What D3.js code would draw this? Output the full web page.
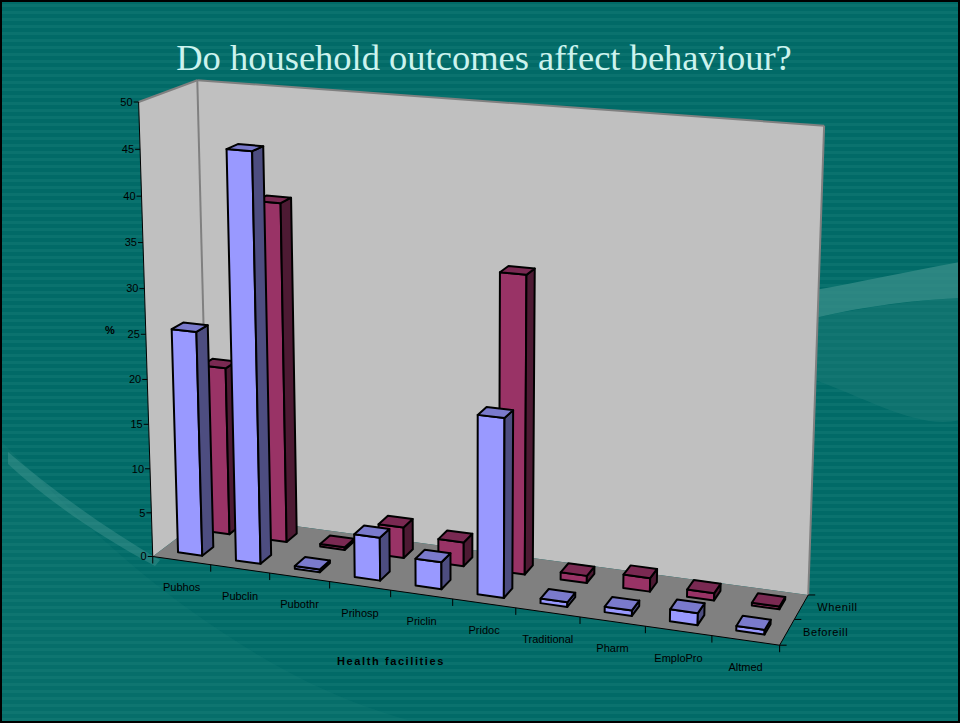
<!DOCTYPE html>
<html>
<head>
<meta charset="utf-8">
<script src="https://cdn.jsdelivr.net/npm/d3@7"></script>
<style>
  body { margin: 0; background: #fff; }
  text { font-family: "Liberation Sans", Arial, sans-serif; }
</style>
</head>
<body>
<div id="chart"></div>
<script>
// ---- data ----
var categories = ["Pubhos", "Pubclin", "Pubothr", "Prihosp", "Priclin", "Pridoc", "Traditional", "Pharm", "EmploPro", "Altmed"];
var seriesNames = ["Beforeill", "Whenill"];
var beforeIll = [25.2, 45.3, 0.3, 4.8, 3.0, 19.6, 0.5, 0.6, 1.3, 0.5];
var whenIll = [19.2, 38.3, 0.3, 3.5, 2.7, 33.0, 0.8, 1.5, 0.8, 0.3];
var yTicks = d3.range(0, 51, 5);

var width = 960, height = 723;

var svg = d3.select("#chart")
    .append("svg")
    .attr("width", width)
    .attr("height", height);

// ---- slide background ----
var defs = svg.append("defs");
var pat = defs.append("pattern")
    .attr("id", "stripes")
    .attr("patternUnits", "userSpaceOnUse")
    .attr("width", 8).attr("height", 7);
pat.append("rect").attr("width", 8).attr("height", 7).attr("fill", "#016a67");
pat.append("rect").attr("y", 4).attr("width", 8).attr("height", 3).attr("fill", "#0a726e");

svg.append("rect")
    .attr("width", width).attr("height", height)
    .attr("fill", "url(#stripes)");

// faint swooshes
svg.append("path")
    .attr("d", "M0,440 C60,500 120,560 190,610 C260,660 330,700 420,723 L0,723 Z")
    .attr("fill", "#2a8782").attr("opacity", 0.15);
svg.append("path")
    .attr("d", "M8,452 C50,488 100,525 160,560 L155,566 C95,534 45,498 8,464 Z")
    .attr("fill", "#4a9a95").attr("opacity", 0.4);
svg.append("path")
    .attr("d", "M815,290 C860,282 905,272 960,262 L960,298 C915,300 865,306 815,318 Z")
    .attr("fill", "#3a8f8a").attr("opacity", 0.75);
svg.append("path")
    .attr("d", "M815,318 C870,306 920,300 960,298 L960,420 C920,430 870,400 815,380 Z")
    .attr("fill", "#1f7d78").attr("opacity", 0.45);

// title
svg.append("text")
    .attr("x", 484).attr("y", 70)
    .style("font-family", "'Liberation Serif', 'DejaVu Serif', serif")
    .style("font-size", "36.5px")
    .style("fill", "#ccf3ee")
    .style("text-anchor", "middle")
    .text("Do household outcomes affect behaviour?");

// ---- 3D frame: where the corners of the unit box (x categories, y value, z depth) sit ----
var anchors = [
    [0, 0, 0, 153, 553],
    [0, 1, 0, 138, 103],
    [0, 1, 1, 198, 79],
    [0, 0, 1, 208, 518],
    [1, 1, 1, 824, 126],
    [1, 0, 1, 808, 592],
    [1, 0, 0, 780, 648]
];

// least squares fit of a 3x4 perspective matrix to the anchors
function fitProjection(pts) {
    var rows = [], rhs = [];
    pts.forEach(function(p) {
        var X = p[0], Y = p[1], Z = p[2], u = p[3], v = p[4];
        rows.push([X, Y, Z, 1, 0, 0, 0, 0, -u * X, -u * Y, -u * Z]); rhs.push(u);
        rows.push([0, 0, 0, 0, X, Y, Z, 1, -v * X, -v * Y, -v * Z]); rhs.push(v);
    });
    var n = 11, M = [];
    for (var i = 0; i < n; i++) {
        M.push([]);
        for (var j = 0; j <= n; j++) {
            var s = 0;
            for (var k = 0; k < rows.length; k++) s += rows[k][i] * (j < n ? rows[k][j] : rhs[k]);
            M[i].push(s);
        }
    }
    for (var c = 0; c < n; c++) {
        var piv = c;
        for (var r = c + 1; r < n; r++) if (Math.abs(M[r][c]) > Math.abs(M[piv][c])) piv = r;
        var t = M[c]; M[c] = M[piv]; M[piv] = t;
        for (var r2 = 0; r2 < n; r2++) {
            if (r2 === c) continue;
            var f = M[r2][c] / M[c][c];
            for (var j2 = c; j2 <= n; j2++) M[r2][j2] -= f * M[c][j2];
        }
    }
    return M.map(function(row, i) { return row[n] / row[i]; });
}
var P = fitProjection(anchors);

function project(x, y, z) {
    var w = P[8] * x + P[9] * y + P[10] * z + 1;
    return [(P[0] * x + P[1] * y + P[2] * z + P[3]) / w,
            (P[4] * x + P[5] * y + P[6] * z + P[7]) / w];
}

// camera centre = null space of P
function det3(m) {
    return m[0][0] * (m[1][1] * m[2][2] - m[1][2] * m[2][1])
         - m[0][1] * (m[1][0] * m[2][2] - m[1][2] * m[2][0])
         + m[0][2] * (m[1][0] * m[2][1] - m[1][1] * m[2][0]);
}
var A3 = [[P[0], P[1], P[2]], [P[4], P[5], P[6]], [P[8], P[9], P[10]]];
var b3 = [-P[3], -P[7], -1];
var D = det3(A3);
var cam = [0, 1, 2].map(function(col) {
    var m = A3.map(function(row, i) { return row.map(function(v, j) { return j === col ? b3[i] : v; }); });
    return det3(m) / D;
});

// ---- scales ----
var x = d3.scaleBand().domain(categories).range([0, 1]).paddingInner(0.58).paddingOuter(0.29);
var z = d3.scaleBand().domain(seriesNames).range([0, 1]).paddingInner(0.6).paddingOuter(0.3);
var y = d3.scaleLinear().domain([0, 50]).range([0, 1]);

var line = d3.line();
function poly(pts) {
    return line(pts.map(function(p) { return project(p[0], p[1], p[2]); })) + "Z";
}

// ---- walls and floor ----
svg.append("path").attr("d", poly([[0, 0, 0], [0, 0, 1], [0, 1, 1], [0, 1, 0]])).attr("fill", "#c0c0c0");
svg.append("path").attr("d", poly([[0, 0, 1], [1, 0, 1], [1, 1, 1], [0, 1, 1]])).attr("fill", "#c0c0c0");
svg.append("path").attr("d", poly([[0, 0, 0], [1, 0, 0], [1, 0, 1], [0, 0, 1]])).attr("fill", "#808080");

var wallEdges = [
    [[0, 1, 0], [0, 1, 1]],
    [[0, 1, 1], [1, 1, 1]],
    [[1, 1, 1], [1, 0, 1]],
    [[0, 1, 1], [0, 0, 1]]
];
svg.append("g").selectAll("path").data(wallEdges).enter()
    .append("path")
    .attr("d", function(d) { return line(d.map(function(p) { return project(p[0], p[1], p[2]); })); })
    .attr("stroke", "#808080").attr("stroke-width", 2).attr("fill", "none");

// ---- axes ----
var axisG = svg.append("g").attr("stroke", "#000").attr("stroke-width", 1).attr("fill", "none");
[[[0, 0, 0], [0, 1, 0]], [[0, 0, 0], [1, 0, 0]], [[1, 0, 0], [1, 0, 1]]].forEach(function(seg) {
    axisG.append("path").attr("d", line(seg.map(function(p) { return project(p[0], p[1], p[2]); })));
});

// value ticks
yTicks.forEach(function(t) {
    var p = project(0, y(t), 0);
    axisG.append("path").attr("d", line([[p[0] - 5, p[1]], [p[0], p[1]]]));
    svg.append("text")
        .attr("x", p[0] - 6).attr("y", p[1]).attr("dy", "0.35em")
        .style("font-size", "11px").style("text-anchor", "end")
        .text(t);
});

// category ticks + labels
d3.range(categories.length + 1).forEach(function(i) {
    var p = project(i / categories.length, 0, 0);
    axisG.append("path").attr("d", line([[p[0], p[1]], [p[0], p[1] + 7]]));
});
categories.forEach(function(c) {
    var p = project(x(c) + x.bandwidth() / 2, 0, 0);
    svg.append("text")
        .attr("x", p[0]).attr("y", p[1] + 27).attr("dy", "0.35em")
        .style("font-size", "11px").style("text-anchor", "middle")
        .text(c);
});

// depth ticks + series labels
[0, 0.5, 1].forEach(function(k) {
    var p = project(1, 0, k);
    axisG.append("path").attr("d", line([[p[0], p[1]], [p[0] + 7, p[1]]]));
});
seriesNames.forEach(function(s) {
    var p = project(1, 0, z(s) + z.bandwidth() / 2);
    svg.append("text")
        .attr("x", p[0] + 16).attr("y", p[1]).attr("dy", "0.35em")
        .style("font-size", "11px").style("letter-spacing", "0.6px")
        .text(s);
});

// axis titles
svg.append("text")
    .attr("x", 391).attr("y", 661).attr("dy", "0.35em")
    .style("font-size", "11px").style("font-weight", "bold")
    .style("letter-spacing", "1.6px").style("text-anchor", "middle")
    .text("Health facilities");
svg.append("text")
    .attr("x", 110).attr("y", 330).attr("dy", "0.35em")
    .style("font-size", "11px").style("font-weight", "bold")
    .style("text-anchor", "middle")
    .text("%");

// ---- bars ----
var colors = {
    Beforeill: { front: "#9999ff", top: "#7a7acc", side: "#4d4d80" },
    Whenill: { front: "#993366", top: "#7a2952", side: "#4d1a33" }
};

var bars = [];
seriesNames.forEach(function(s, si) {
    var vals = si === 0 ? beforeIll : whenIll;
    categories.forEach(function(c, ci) {
        bars.push({ series: s, key: c, value: vals[ci] });
    });
});

function boxFaces(d) {
    var x0 = x(d.key), x1 = x0 + x.bandwidth();
    var z0 = z(d.series), z1 = z0 + z.bandwidth();
    var y0 = 0, y1 = y(d.value);
    var col = colors[d.series];
    var faces = [];
    if (cam[2] < z0) faces.push({ pts: [[x0, y0, z0], [x1, y0, z0], [x1, y1, z0], [x0, y1, z0]], fill: col.front });
    if (cam[2] > z1) faces.push({ pts: [[x0, y0, z1], [x1, y0, z1], [x1, y1, z1], [x0, y1, z1]], fill: col.front });
    if (cam[0] > x1) faces.push({ pts: [[x1, y0, z0], [x1, y0, z1], [x1, y1, z1], [x1, y1, z0]], fill: col.side });
    if (cam[0] < x0) faces.push({ pts: [[x0, y0, z0], [x0, y0, z1], [x0, y1, z1], [x0, y1, z0]], fill: col.side });
    if (cam[1] > y1) faces.push({ pts: [[x0, y1, z0], [x1, y1, z0], [x1, y1, z1], [x0, y1, z1]], fill: col.top });
    d.dist = Math.hypot((x0 + x1) / 2 - cam[0], y1 / 2 - cam[1], (z0 + z1) / 2 - cam[2]);
    d.faces = faces;
    return d;
}
bars.forEach(boxFaces);
bars.sort(function(a, b) { return b.dist - a.dist; });

var barG = svg.append("g").selectAll("g.bar").data(bars).enter()
    .append("g").attr("class", "bar");

barG.selectAll("path").data(function(d) { return d.faces; }).enter()
    .append("path")
    .attr("d", function(f) { return poly(f.pts); })
    .attr("fill", function(f) { return f.fill; })
    .attr("stroke", "#000")
    .attr("stroke-width", 2)
    .attr("stroke-linejoin", "round");

// slide border
svg.append("rect")
    .attr("x", 1).attr("y", 1).attr("width", width - 2).attr("height", height - 2)
    .attr("fill", "none").attr("stroke", "#000").attr("stroke-width", 2);
</script>
</body>
</html>
